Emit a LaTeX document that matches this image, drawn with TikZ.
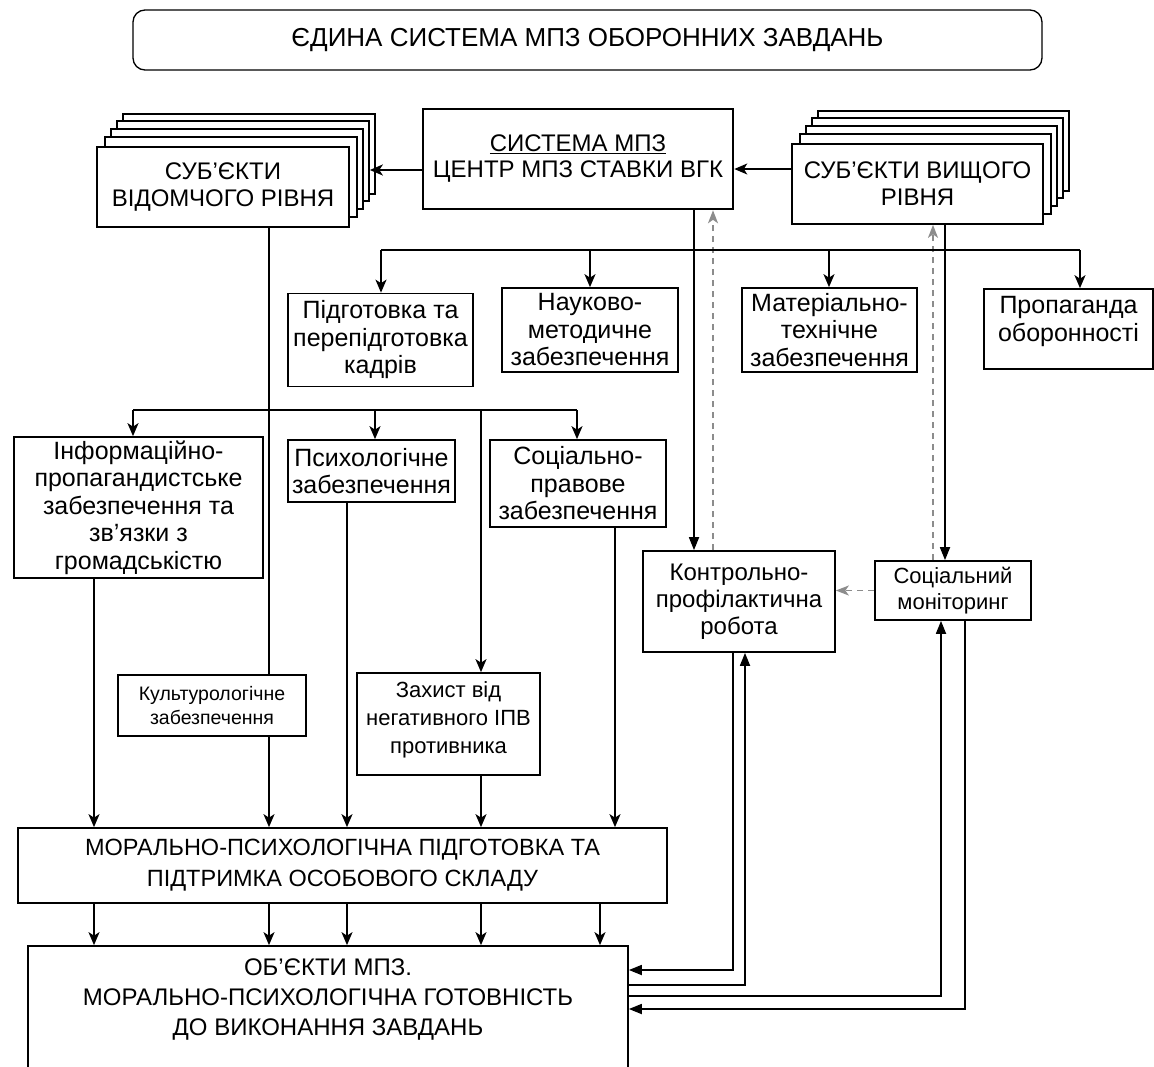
\documentclass[tikz,border=0pt]{standalone}
\usepackage{fontspec}
\setmainfont{Liberation Sans}
\usetikzlibrary{arrows.meta,calc}
\newcommand\fsz[2]{\fontsize{#1pt}{#2pt}\selectfont}
\begin{document}
\begin{tikzpicture}[x=1pt,y=-1pt,
  box/.style={draw, line width=1.7pt, fill=white, align=center, inner sep=1pt},
  ln/.style={line width=1.7pt},
  arS/.style={ln,-{Stealth[length=13pt,width=11pt,inset=3.5pt]}},
  arT/.style={ln,-{Triangle[length=13pt,width=10pt]}},
  garr/.style={draw=black!45, line width=1.6pt, dash pattern=on 6pt off 5pt, -{Stealth[length=13pt,width=10pt,inset=3.5pt]}},
  midf/.style={font=\fsz{25}{27.5}},
]
\fill[white] (0,0) rectangle (1154,1066);
\useasboundingbox (0,0) rectangle (1154,1066);
\clip (0,0) rectangle (1154,1066);

% header
\node[draw, line width=1.3pt, rounded corners=12pt, minimum width=909, minimum height=60, font=\fsz{26}{30}] (hdr) at (587.5,40) {ЄДИНА СИСТЕМА МПЗ ОБОРОННИХ ЗАВДАНЬ};

% stacks
\foreach \dx/\dy/\nm in {26/-33/L5,20/-26/L4,14/-18/L3,8/-10/L2}{
  \node[box, minimum width=252, minimum height=80] (\nm) at (223+\dx,187+\dy) {};
  \node[box, minimum width=251, minimum height=80] (R\nm) at (917.5+\dx,184+\dy) {};
}
\node[box, minimum width=252, minimum height=80, font=\fsz{24}{27}] (lsub) at (223,187) {СУБ’ЄКТИ\\ВІДОМЧОГО РІВНЯ};
\node[box, minimum width=251, minimum height=80, font=\fsz{24}{27}] (rsub) at (917.5,184) {СУБ’ЄКТИ ВИЩОГО\\РІВНЯ};
\node[box, line width=2.6pt, minimum width=310, minimum height=100, font=\fsz{24}{26}, text depth=6pt] (cbox) at (578,159) {\underline{СИСТЕМА МПЗ}\\ЦЕНТР МПЗ СТАВКИ ВГК};

% row 1
\node[box, midf, minimum width=185, minimum height=93] (pid) at (380.5,340) {Підготовка та\\перепідготовка\\кадрів};
\node[box, midf, minimum width=176, minimum height=84] (nauk) at (590,330) {Науково-\\методичне\\забезпечення};
\node[box, midf, minimum width=175, minimum height=84] (mat) at (829.5,330) {Матеріально-\\технічне\\забезпечення};
\node[box, midf, minimum width=169, minimum height=80, text depth=20pt] (prop) at (1068.5,329) {Пропаганда\\оборонності};

% row 2
\node[box, midf, minimum width=249, minimum height=141] (info) at (138.5,507.5) {Інформаційно-\\пропагандистське\\забезпечення та\\зв’язки з\\громадськістю};
\node[box, midf, minimum width=167, minimum height=62] (psy) at (371.5,471) {Психологічне\\забезпечення};
\node[box, midf, minimum width=176, minimum height=87] (soc) at (578,483.5) {Соціально-\\правове\\забезпечення};

% row 3
\node[box, font=\fsz{22}{28}, minimum width=183, minimum height=102, text depth=12pt] (zakh) at (448.5,724) {Захист від\\негативного ІПВ\\противника};
\node[box, font=\fsz{24}{27}, minimum width=192, minimum height=101] (kont) at (739,601.5) {Контрольно-\\профілактична\\робота};
\node[box, font=\fsz{22}{26}, minimum width=156, minimum height=59] (smon) at (953,590.5) {Соціальний\\моніторинг};

% bottom boxes
\node[box, font=\fsz{23.5}{31}, minimum width=649, minimum height=75] (mpp) at (342.5,865.5) {МОРАЛЬНО-ПСИХОЛОГІЧНА ПІДГОТОВКА ТА\\ПІДТРИМКА ОСОБОВОГО СКЛАДУ};
\node[box, font=\fsz{24}{30}, minimum width=600, minimum height=134, text depth=32pt] (obj) at (328,1013) {ОБ’ЄКТИ МПЗ.\\МОРАЛЬНО-ПСИХОЛОГІЧНА ГОТОВНІСТЬ\\ДО ВИКОНАННЯ ЗАВДАНЬ};

% reference coordinates
\coordinate (x94) at (94,0);
\coordinate (x269) at (269,0);
\coordinate (x347) at (347,0);
\coordinate (x481) at (481,0);
\coordinate (x600) at (600,0);
\coordinate (x615) at (615,0);
\coordinate (x694) at (694,0);
\coordinate (x713) at (713,0);
\coordinate (x733) at (733,0);
\coordinate (x745) at (745,0);
\coordinate (x933) at (933,0);
\coordinate (x941) at (941,0);
\coordinate (x945) at (945,0);
\coordinate (x965) at (965,0);
\coordinate (y970) at (0,970);
\coordinate (y985) at (0,985);
\coordinate (y996) at (0,996);
\coordinate (y1009) at (0,1009);
\coordinate (b1a) at (381,250);
\coordinate (b1b) at (590,250);
\coordinate (b1c) at (829,250);
\coordinate (b1d) at (1080,250);
\coordinate (b2a) at (133,410);
\coordinate (b2b) at (375,410);
\coordinate (b2c) at (481,410);
\coordinate (b2d) at (577,410);

% top connectors
\draw[arS] ($(cbox.west)+(0,11)$) -- ($(L4.east |- cbox.west)+(0,11)$);
\draw[arS] ($(rsub.west)+(0,-15)$) -- ($(cbox.east |- rsub.west)+(0,-15)$);
\draw[arT] (x694 |- cbox.south) -- (x694 |- kont.north);
\draw[garr] (x713 |- kont.north) -- (x713 |- cbox.south);
\draw[arT] (x945 |- rsub.south) -- (x945 |- smon.north);
\draw[garr] (x933 |- smon.north) -- (x933 |- rsub.south);
\draw[garr] (smon.west) -- (smon.west -| kont.east);

% bus 1
\draw[ln] (b1a) -- (b1d);
\draw[arS] (b1a) -- (b1a |- pid.north);
\draw[arS] (b1b) -- (b1b |- nauk.north);
\draw[arS] (b1c) -- (b1c |- mat.north);
\draw[arS] (b1d) -- (b1d |- prop.north);

% bus 2
\draw[ln] (b2a) -- (b2d);
\draw[arS] (b2a) -- (b2a |- info.north);
\draw[arS] (b2b) -- (b2b |- psy.north);
\draw[arS] (b2d) -- (b2d |- soc.north);
\draw[arS] (b2c) -- (b2c |- zakh.north);

% into MPP
\draw[arS] (x94 |- info.south) -- (x94 |- mpp.north);
\draw[arS] (x269 |- lsub.south) -- (x269 |- mpp.north);
\draw[arS] (x347 |- psy.south) -- (x347 |- mpp.north);
\draw[arS] (x481 |- zakh.south) -- (x481 |- mpp.north);
\draw[arS] (x615 |- soc.south) -- (x615 |- mpp.north);

% MPP -> objects
\draw[arS] (x94 |- mpp.south) -- (x94 |- obj.north);
\draw[arS] (x269 |- mpp.south) -- (x269 |- obj.north);
\draw[arS] (x347 |- mpp.south) -- (x347 |- obj.north);
\draw[arS] (x481 |- mpp.south) -- (x481 |- obj.north);
\draw[arS] (x600 |- mpp.south) -- (x600 |- obj.north);

% feedback loops
\draw[arT] (x733 |- kont.south) |- (obj.east |- y970);
\draw[arT] (obj.east |- y985) -| (x745 |- kont.south);
\draw[arT] (obj.east |- y996) -| (x941 |- smon.south);
\draw[arT] (x965 |- smon.south) |- (obj.east |- y1009);

% box over the through line
\node[box, font=\fsz{19.5}{23.5}, minimum width=188, minimum height=61] (kult) at (212,705.5) {Культурологічне\\забезпечення};
\end{tikzpicture}
\end{document}
